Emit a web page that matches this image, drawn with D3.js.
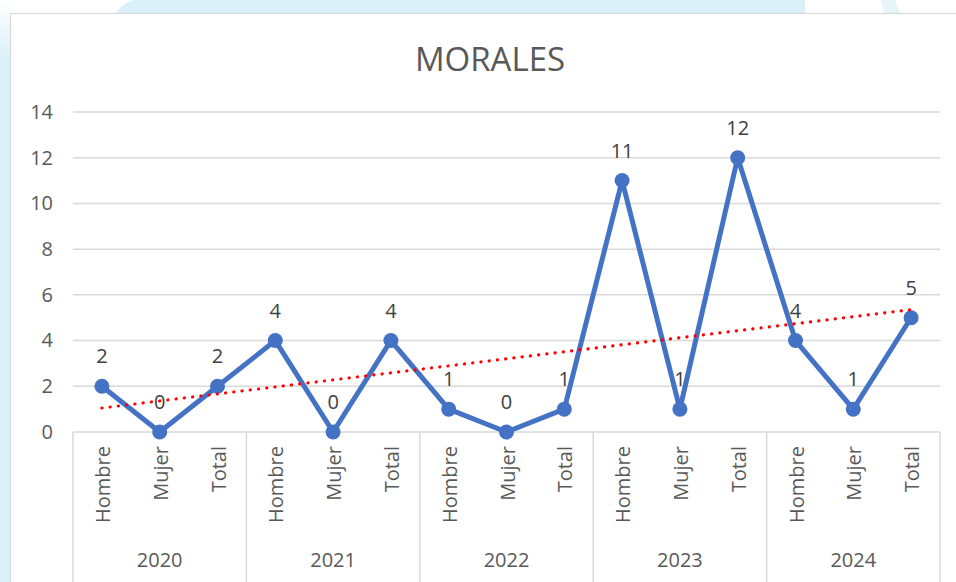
<!DOCTYPE html>
<html>
<head>
<meta charset="utf-8">
<script src="https://cdn.jsdelivr.net/npm/d3@7"></script>
<style>
  html, body { margin: 0; padding: 0; background: #ffffff; }
  svg { display: block; font-family: "Open Sans", "Liberation Sans", sans-serif; }
</style>
</head>
<body>
<svg id="chart" width="956" height="582"></svg>
<script>
// MORALES - line chart with linear trendline
var years = ["2020", "2021", "2022", "2023", "2024"];
var subCats = ["Hombre", "Mujer", "Total"];
var values = [2, 0, 2, 4, 0, 4, 1, 0, 1, 11, 1, 12, 4, 1, 5];
var yTicks = [0, 2, 4, 6, 8, 10, 12, 14];

var svg = d3.select("#chart");
var W = 956, H = 582;

// points built from years x sub categories
var points = [];
years.forEach(function(yr, i) {
    subCats.forEach(function(sc, j) {
        points.push({ key: yr + "-" + sc, year: yr, cat: sc, value: values[i * 3 + j] });
    });
});

// background decoration (page behind the chart)
var defs = svg.append("defs");
var lg = defs.append("linearGradient").attr("id", "leftFade").attr("x1", 0).attr("y1", 0).attr("x2", 0).attr("y2", 1);
lg.append("stop").attr("offset", "0%").attr("stop-color", "#ffffff");
lg.append("stop").attr("offset", "10%").attr("stop-color", "#daf0f8");
lg.append("stop").attr("offset", "100%").attr("stop-color", "#daf0f8");
svg.append("rect").attr("x", 0).attr("y", 0).attr("width", 11).attr("height", H).attr("fill", "url(#leftFade)");
svg.append("path").attr("d", "M116,13 C121,6 126,2 134,0 L805,0 L805,13 Z").attr("fill", "#daf0f8");
svg.append("path").attr("d", "M880,0 L895,0 C897,5 899,9 900,13 L884,13 C883,8 882,4 880,0 Z").attr("fill", "#e6f5fa");

// chart box
svg.append("rect")
    .attr("x", 10.5).attr("y", 13.5)
    .attr("width", W).attr("height", H)
    .attr("fill", "#ffffff")
    .attr("stroke", "#d9d9d9").attr("stroke-width", 1.2);

var margin = { left: 73, right: 16, top: 112, bottom: 150 };
var plotW = W - margin.left - margin.right;
var plotH = H - margin.top - margin.bottom;

var x = d3.scaleBand()
    .domain(points.map(function(d) { return d.key; }))
    .range([margin.left, margin.left + plotW])
    .padding(0);

var y = d3.scaleLinear()
    .domain([0, 14])
    .range([margin.top + plotH, margin.top]);

// title
svg.append("text")
    .attr("x", 490).attr("y", 71)
    .attr("text-anchor", "middle")
    .attr("font-size", 33)
    .attr("fill", "#595959")
    .text("MORALES");

// gridlines
svg.append("g").selectAll("line")
    .data(yTicks)
    .enter().append("line")
    .attr("x1", margin.left).attr("x2", margin.left + plotW)
    .attr("y1", function(d) { return y(d); })
    .attr("y2", function(d) { return y(d); })
    .attr("stroke", "#d9d9d9").attr("stroke-width", 1.5);

// y axis labels
var yAxis = d3.axisLeft(y).tickValues(yTicks).tickSize(0).tickPadding(0);
var yg = svg.append("g").attr("transform", "translate(" + 53 + ",0)").call(yAxis);
yg.select(".domain").remove();
yg.selectAll("text")
    .attr("font-size", 20)
    .attr("fill", "#595959")
    .attr("font-family", "\"Open Sans\", \"Liberation Sans\", sans-serif");

// category axis: boundaries between groups
var groupEdges = years.map(function(yr) { return x(yr + "-Hombre"); });
groupEdges.push(margin.left + plotW);
svg.append("g").selectAll("line")
    .data(groupEdges)
    .enter().append("line")
    .attr("x1", function(d) { return d; }).attr("x2", function(d) { return d; })
    .attr("y1", y(0)).attr("y2", H)
    .attr("stroke", "#d9d9d9").attr("stroke-width", 1.5);

// sub category labels (rotated)
svg.append("g").selectAll("text")
    .data(points)
    .enter().append("text")
    .attr("transform", function(d) {
        return "translate(" + (x(d.key) + x.bandwidth() / 2 + 8) + "," + (y(0) + 14) + ") rotate(-90)";
    })
    .attr("text-anchor", "end")
    .attr("font-size", 20)
    .attr("fill", "#595959")
    .text(function(d) { return d.cat; });

// year labels
svg.append("g").selectAll("text")
    .data(years)
    .enter().append("text")
    .attr("x", function(yr) { return x(yr + "-Mujer") + x.bandwidth() / 2; })
    .attr("y", 567)
    .attr("text-anchor", "middle")
    .attr("font-size", 20)
    .attr("fill", "#595959")
    .text(function(yr) { return yr; });

// series line
var line = d3.line()
    .x(function(d) { return x(d.key) + x.bandwidth() / 2; })
    .y(function(d) { return y(d.value); });

svg.append("path")
    .datum(points)
    .attr("d", line)
    .attr("fill", "none")
    .attr("stroke", "#4472c4")
    .attr("stroke-width", 5)
    .attr("stroke-linejoin", "round");

svg.append("g").selectAll("circle")
    .data(points)
    .enter().append("circle")
    .attr("cx", function(d) { return x(d.key) + x.bandwidth() / 2; })
    .attr("cy", function(d) { return y(d.value); })
    .attr("r", 7.5)
    .attr("fill", "#4472c4");

// linear trendline (least squares over the series)
var n = points.length;
var mx = d3.mean(d3.range(n));
var my = d3.mean(values);
var sxy = d3.sum(d3.range(n), function(i) { return (i - mx) * (values[i] - my); });
var sxx = d3.sum(d3.range(n), function(i) { return (i - mx) * (i - mx); });
var slope = sxy / sxx;
var icpt = my - slope * mx;
var trend = [points[0], points[n - 1]].map(function(d, k) {
    var i = k === 0 ? 0 : n - 1;
    return { key: d.key, value: icpt + slope * i };
});
svg.append("path")
    .datum(trend)
    .attr("d", line)
    .attr("fill", "none")
    .attr("stroke", "#ff0000")
    .attr("stroke-width", 3.2)
    .attr("stroke-dasharray", "0.1 8.2")
    .attr("stroke-linecap", "round");

// data labels
svg.append("g").selectAll("text")
    .data(points)
    .enter().append("text")
    .attr("x", function(d) { return x(d.key) + x.bandwidth() / 2; })
    .attr("y", function(d) { return y(d.value) - 23; })
    .attr("text-anchor", "middle")
    .attr("font-size", 20)
    .attr("fill", "#404040")
    .text(function(d) { return d.value; });
</script>
</body>
</html>
